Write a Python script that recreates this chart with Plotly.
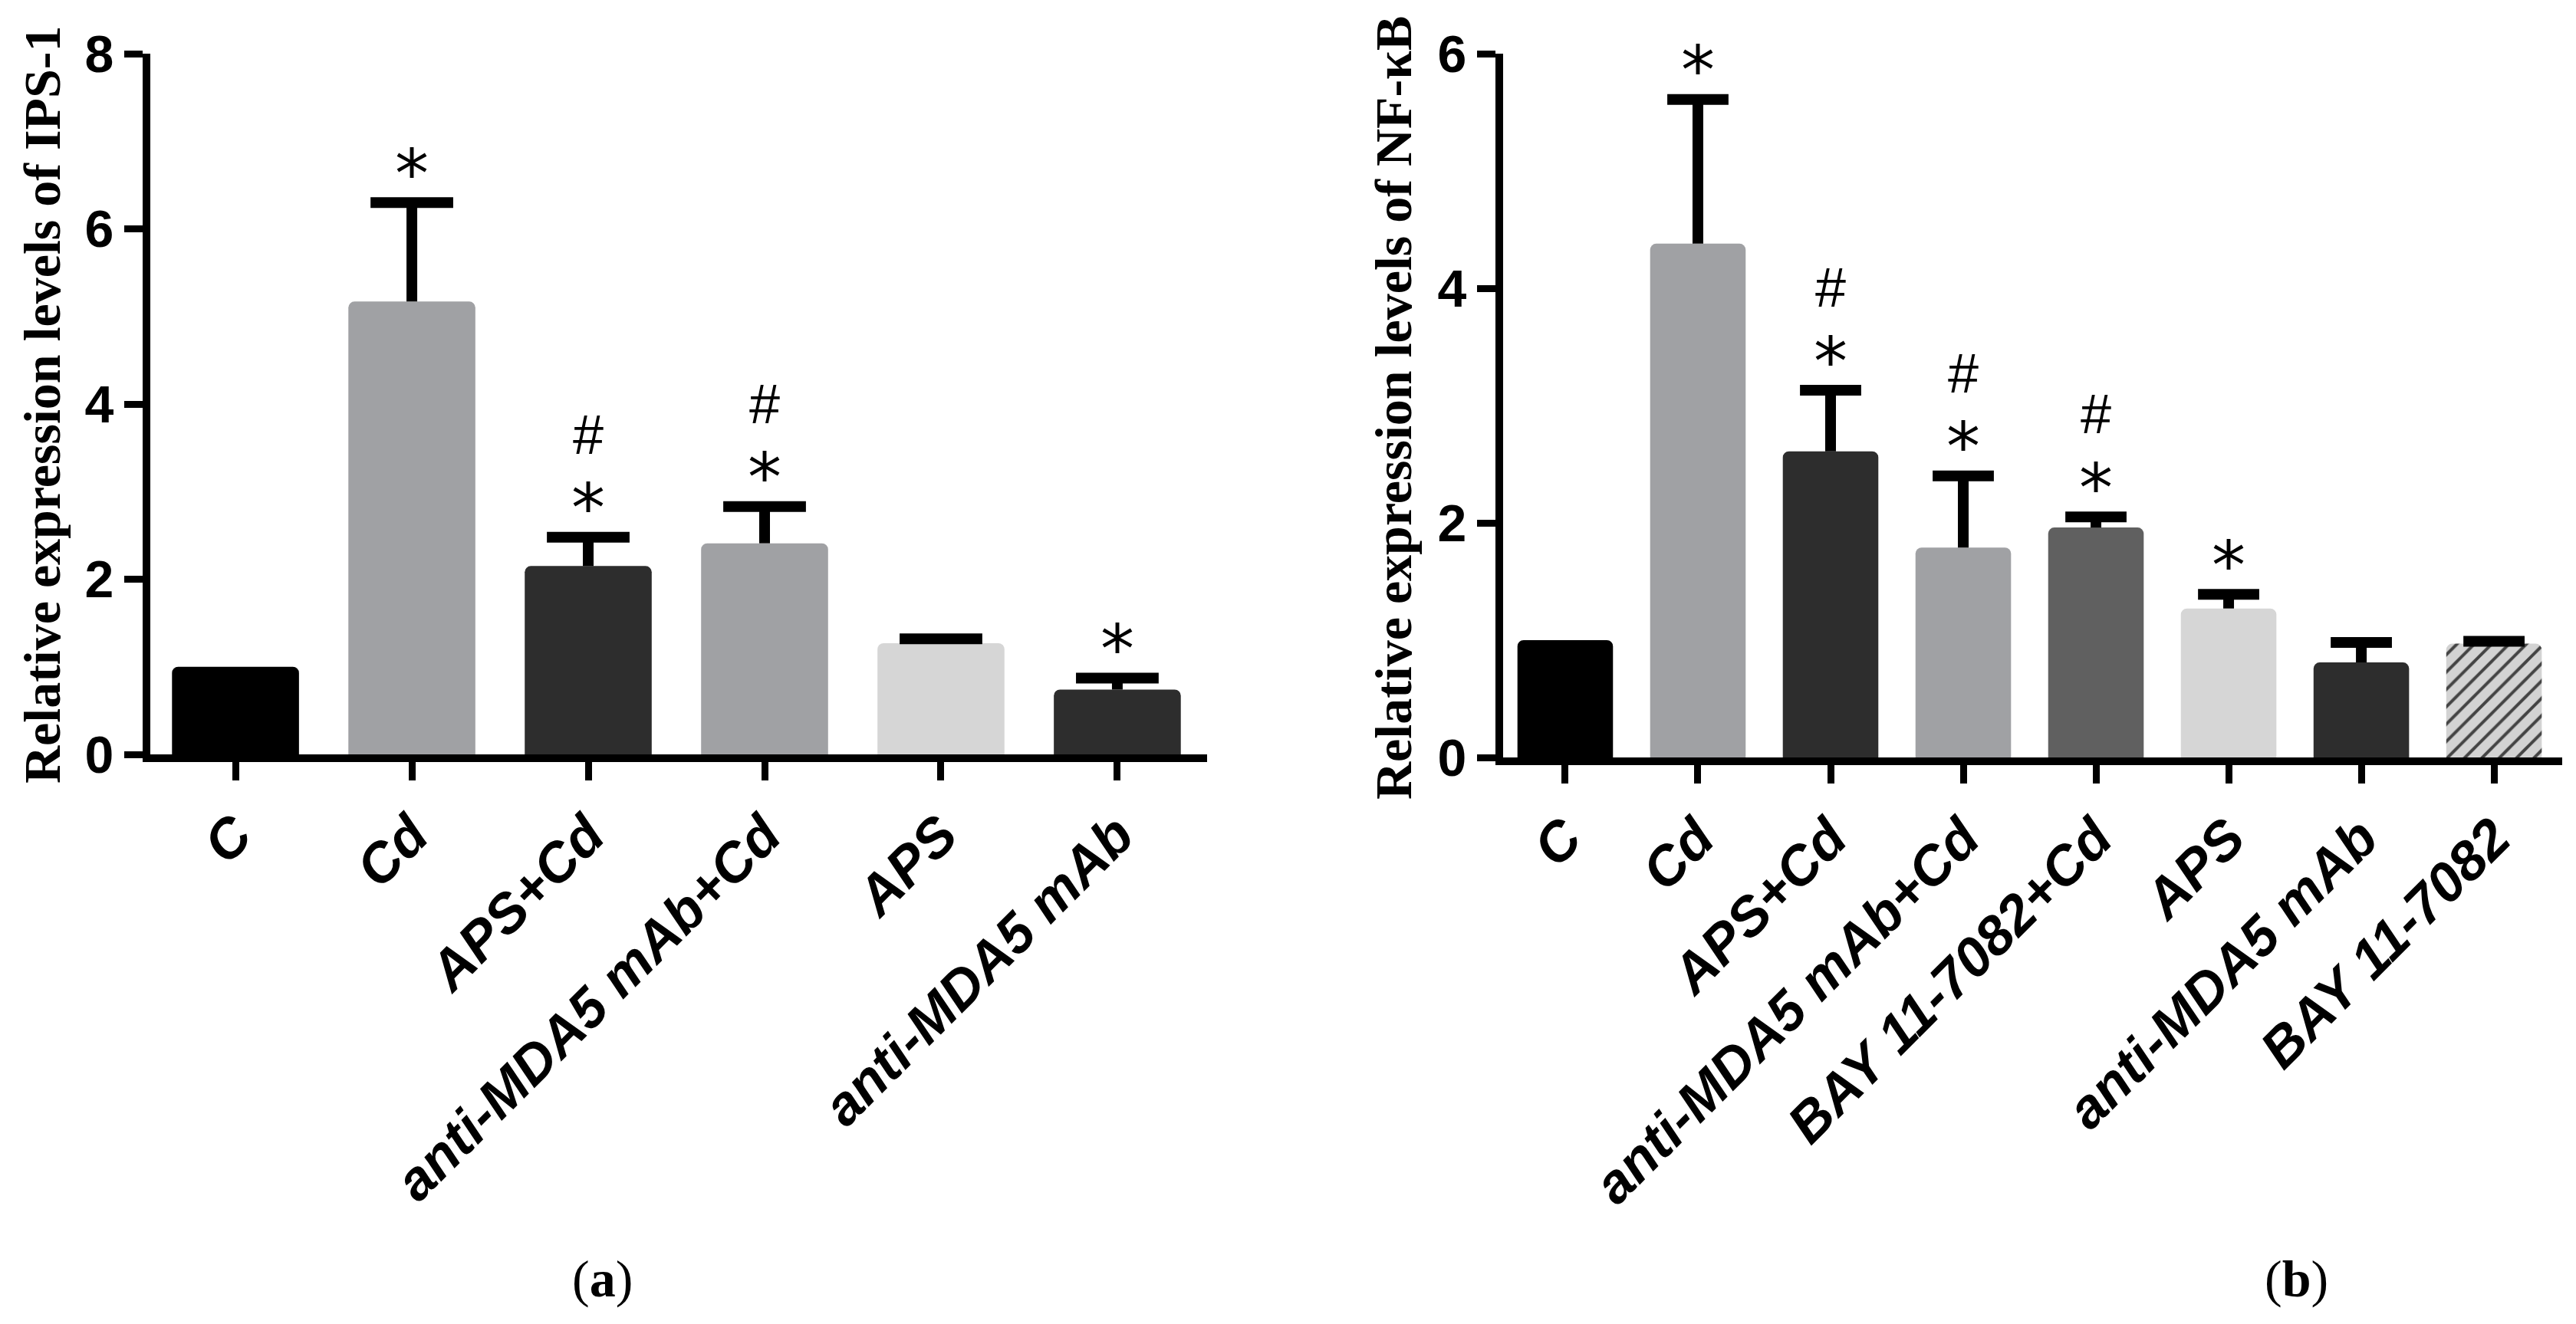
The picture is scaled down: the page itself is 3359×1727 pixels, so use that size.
import plotly.graph_objects as go

W, H = 3359, 1727

# ---------------- data ----------------
cats_a = ["C", "Cd", "APS+Cd", "anti-MDA5 mAb+Cd", "APS", "anti-MDA5 mAb"]
vals_a = [1.00, 5.17, 2.15, 2.41, 1.27, 0.74]
errs_a = [None, 1.13, 0.33, 0.42, 0.05, 0.13]
colors_a = ["#000000", "#a0a1a4", "#2d2d2d", "#a0a1a4", "#d6d6d6", "#2d2d2d"]
star_a = [False, True, True, True, False, True]
hash_a = [False, False, True, True, False, False]

cats_b = ["C", "Cd", "APS+Cd", "anti-MDA5 mAb+Cd", "BAY 11-7082+Cd", "APS",
          "anti-MDA5 mAb", "BAY 11-7082"]
vals_b = [1.00, 4.38, 2.61, 1.79, 1.96, 1.27, 0.81, 0.97]
errs_b = [None, 1.23, 0.52, 0.61, 0.09, 0.12, 0.17, 0.02]
colors_b = ["#000000", "#a0a1a4", "#2d2d2d", "#a0a1a4", "#606060", "#d6d6d6",
            "#2d2d2d", "#d3d3d3"]
pattern_b = ["", "", "", "", "", "", "", "/"]
star_b = [False, True, True, True, True, True, False, False]
hash_b = [False, False, True, True, True, False, False, False]

titles = ["Relative expression levels of IPS-1", "Relative expression levels of NF-κB"]
panel_labels = ["a", "b"]

fig = go.Figure()

tickfont_x = dict(family="Liberation Sans, Arial", size=72, color="black",
                  weight="bold", style="italic")
tickfont_y = dict(family="Liberation Sans, Arial", size=68, color="black", weight="bold")


def add_panel(cats, vals, errs, colors, stars, hashes, xa, ya, cap_w, patterns=None):
    marker = dict(color=colors, line=dict(width=0), cornerradius=8)
    if patterns is not None:
        marker["pattern"] = dict(shape=patterns, fgcolor="#000000", fgopacity=1,
                                 size=16, solidity=0.25, fillmode="overlay")
    fig.add_trace(go.Bar(x=cats, y=vals, marker=marker, width=0.72,
                         xaxis=xa, yaxis=ya, showlegend=False, hoverinfo="skip"))
    ex = [c for c, e in zip(cats, errs) if e is not None]
    ey = [v + e for v, e in zip(vals, errs) if e is not None]
    em = [e for e in errs if e is not None]
    fig.add_trace(go.Scatter(
        x=ex, y=ey, mode="markers", xaxis=xa, yaxis=ya, showlegend=False,
        hoverinfo="skip",
        marker=dict(symbol="line-ew", size=cap_w, color="black",
                    line=dict(width=14, color="black")),
        error_y=dict(type="data", symmetric=False, array=[0] * len(em),
                     arrayminus=em, width=0, thickness=14, color="black")))
    xref = "x" if xa == "x" else xa
    yref = "y" if ya == "y" else ya
    for c, v, e, s, h in zip(cats, vals, errs, stars, hashes):
        top = v + (e or 0)
        if s:
            fig.add_annotation(x=c, y=top, xref=xref, yref=yref, text="*",
                               showarrow=False, yshift=38, yanchor="middle",
                               font=dict(family="DejaVu Sans", size=88, color="black"))
        if h:
            fig.add_annotation(x=c, y=top, xref=xref, yref=yref, text="#",
                               showarrow=False, yshift=134, yanchor="middle",
                               font=dict(family="Liberation Sans, Arial", size=72,
                                         color="black"))


add_panel(cats_a, vals_a, errs_a, colors_a, star_a, hash_a, "x", "y", 77)
add_panel(cats_b, vals_b, errs_b, colors_b, star_b, hash_b, "x2", "y2", 57, pattern_b)

axis_common = dict(showline=True, linecolor="black", linewidth=10, ticks="outside",
                   ticklen=24, tickwidth=9, tickcolor="black", showgrid=False,
                   zeroline=False, fixedrange=True, automargin=False)

fig.update_layout(
    width=W, height=H,
    margin=dict(l=0, r=0, t=0, b=0, pad=0, autoexpand=False),
    paper_bgcolor="white", plot_bgcolor="white",
    xaxis=dict(domain=[188 / W, 1566 / W], type="category",
               range=[-0.483, 5.509], tickangle=-45, tickfont=tickfont_x,
               anchor="y", **axis_common),
    yaxis=dict(domain=[1 - 976 / H, 1 - 62 / H], range=[0, 8], dtick=2,
               tickfont=tickfont_y, anchor="x", **axis_common),
    xaxis2=dict(domain=[1952 / W, 3333 / W], type="category",
                range=[-0.468, 7.514], tickangle=-45, tickfont=tickfont_x,
                anchor="y2", **axis_common),
    yaxis2=dict(domain=[1 - 980 / H, 1 - 62 / H], range=[0, 6], dtick=2,
                tickfont=tickfont_y, anchor="x2", **axis_common),
)

title_font = dict(family="Liberation Serif, Times New Roman", size=68, color="black",
                  weight="bold")
for t, xp, yp in zip(titles, [47 / W, 1809 / W], [1 - 520 / H, 1 - 524 / H]):
    fig.add_annotation(x=xp, y=yp, xref="paper", yref="paper", text=t, textangle=-90,
                       showarrow=False, xanchor="center", yanchor="middle",
                       font=title_font)

for lab, xp in zip(panel_labels, [777 / W, 2986 / W]):
    fig.add_annotation(x=xp, y=1 - 1660 / H, xref="paper", yref="paper",
                       text="(<b>" + lab + "</b>)", showarrow=False,
                       xanchor="center", yanchor="middle",
                       font=dict(family="Liberation Serif, Times New Roman", size=68,
                                 color="black"))

fig.write_html("out.html")
